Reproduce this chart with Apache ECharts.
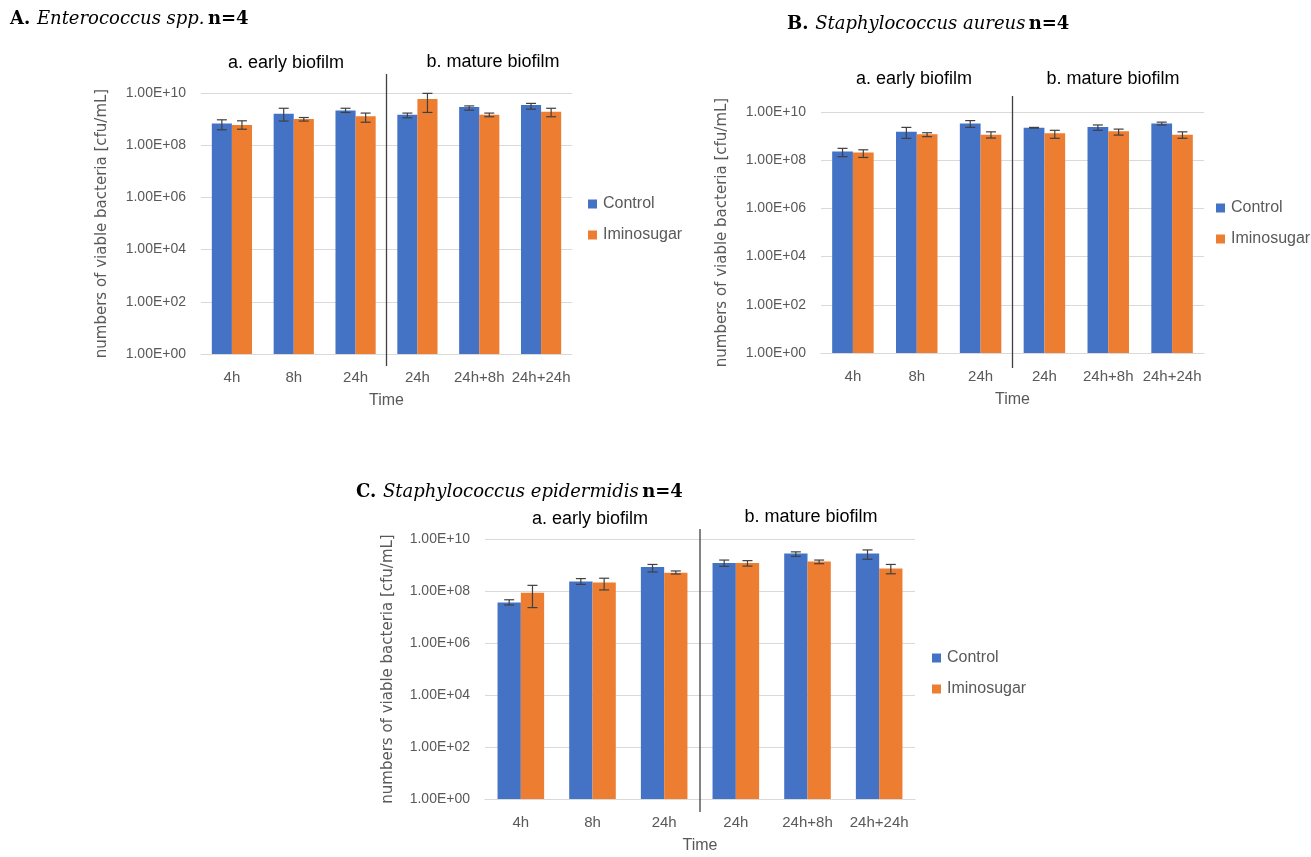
<!DOCTYPE html>
<html>
<head>
<meta charset="utf-8">
<script src="https://cdn.jsdelivr.net/npm/echarts@6/dist/echarts.min.js"></script>
<style>html,body{margin:0;padding:0;background:#fff}#c{width:1311px;height:857px}</style>
</head>
<body>
<div id="c"></div>
<script>
// ---- data ----
const categories = ['4h', '8h', '24h', '24h', '24h+8h', '24h+24h'];
const seriesNames = ['Control', 'Iminosugar'];

// Panel A: Enterococcus spp.
const A_control = [6.8e8, 1.6e9, 2.15e9, 1.47e9, 2.9e9, 3.5e9];
const A_control_low = [3.9e8, 8.4e8, 1.8e9, 1.12e9, 2.2e9, 2.4e9];
const A_control_high = [9.4e8, 2.6e9, 2.6e9, 1.7e9, 3.2e9, 4.0e9];
const A_imino = [6.0e8, 1.0e9, 1.3e9, 5.9e9, 1.47e9, 1.9e9];
const A_imino_low = [4.1e8, 8.4e8, 7.6e8, 1.8e9, 1.23e9, 1.23e9];
const A_imino_high = [8.6e8, 1.15e9, 1.7e9, 9.7e9, 1.7e9, 2.6e9];

// Panel B: Staphylococcus aureus
const B_control = [2.3e8, 1.5e9, 3.3e9, 2.2e9, 2.4e9, 3.3e9];
const B_control_low = [1.4e8, 8.1e8, 2.3e9, 2.15e9, 1.74e9, 2.9e9];
const B_control_high = [3.1e8, 2.3e9, 4.4e9, 2.3e9, 2.9e9, 3.8e9];
const B_imino = [2.1e8, 1.18e9, 1.15e9, 1.3e9, 1.58e9, 1.15e9];
const B_imino_low = [1.3e8, 9.5e8, 8.3e8, 8.1e8, 1.1e9, 8.1e8];
const B_imino_high = [2.7e8, 1.38e9, 1.5e9, 1.74e9, 1.95e9, 1.5e9];

// Panel C: Staphylococcus epidermidis
const C_control = [3.6e7, 2.3e8, 8.3e8, 1.2e9, 2.75e9, 2.75e9];
const C_control_low = [2.9e7, 1.8e8, 5.4e8, 8.9e8, 2.15e9, 1.66e9];
const C_control_high = [4.6e7, 3.0e8, 1.05e9, 1.55e9, 3.2e9, 3.8e9];
const C_imino = [8.5e7, 2.1e8, 5.0e8, 1.2e9, 1.35e9, 7.4e8];
const C_imino_low = [2.3e7, 1.1e8, 4.5e8, 9.1e8, 1.12e9, 4.6e8];
const C_imino_high = [1.65e8, 3.1e8, 5.9e8, 1.47e9, 1.55e9, 1.05e9];

const yMin = 1, yMax = 1e10;
const groupLabels = ['a. early biofilm', 'b. mature biofilm'];
const separatorAfter = 2; // index of last "early" category
const axisTitleY = 'numbers of viable bacteria [cfu/mL]';
const axisTitleX = 'Time';

// ---- styling ----
const BLUE = '#4472C4', ORANGE = '#ED7D31', GREY = '#595959';
const SANS = '"Liberation Sans", Arial, sans-serif';
const CAT_GAP = 0.35;

const panels = [
  { grid: { left: 201, top: 93, width: 371, height: 261 },
    c: A_control, cl: A_control_low, ch: A_control_high,
    i: A_imino, il: A_imino_low, ih: A_imino_high,
    legend: { left: 583, top: 191 }, sepUp: 19, sepDown: 12, nameGapY: 91 },
  { grid: { left: 821, top: 112, width: 383, height: 241 },
    c: B_control, cl: B_control_low, ch: B_control_high,
    i: B_imino, il: B_imino_low, ih: B_imino_high,
    legend: { left: 1211, top: 195 }, sepUp: 16, sepDown: 15, nameGapY: 91 },
  { grid: { left: 485, top: 539, width: 430, height: 260 },
    c: C_control, cl: C_control_low, ch: C_control_high,
    i: C_imino, il: C_imino_low, ih: C_imino_high,
    legend: { left: 927, top: 645 }, sepUp: 10, sepDown: 13, nameGapY: 89 }
];

function fmt(v) {
  const e = Math.round(Math.log10(v));
  return '1.00E+' + (e < 10 ? '0' : '') + e;
}

function errRender(sign) {
  return function (params, api) {
    const band = api.size([1, 1])[0];
    const off = sign * band * (1 - CAT_GAP) / 4;
    const lo = api.coord([api.value(0), api.value(1)]);
    const hi = api.coord([api.value(0), api.value(2)]);
    const x = lo[0] + off;
    const cap = 5;
    const st = { stroke: '#404040', lineWidth: 1.2 };
    return { type: 'group', children: [
      { type: 'line', shape: { x1: x, y1: lo[1], x2: x, y2: hi[1] }, style: st },
      { type: 'line', shape: { x1: x - cap, y1: lo[1], x2: x + cap, y2: lo[1] }, style: st },
      { type: 'line', shape: { x1: x - cap, y1: hi[1], x2: x + cap, y2: hi[1] }, style: st }
    ]};
  };
}

const grids = [], xAxes = [], yAxes = [], series = [], legends = [];
panels.forEach((p, k) => {
  grids.push(Object.assign({ containLabel: false }, p.grid));
  xAxes.push({
    type: 'category', gridIndex: k, data: categories,
    axisTick: { show: false },
    axisLine: { lineStyle: { color: '#d9d9d9', width: 1 } },
    axisLabel: { color: GREY, fontSize: 15, fontFamily: SANS, margin: 16, interval: 0 },
    name: axisTitleX, nameLocation: 'middle', nameGap: 39,
    nameTextStyle: { color: GREY, fontSize: 16, fontFamily: SANS }
  });
  yAxes.push({
    type: 'log', logBase: 10, gridIndex: k, min: yMin, max: yMax, interval: 2,
    axisLine: { show: false }, axisTick: { show: false },
    splitLine: { lineStyle: { color: '#d9d9d9', width: 1 } },
    minorSplitLine: { show: false },
    axisLabel: { color: GREY, fontSize: 14, fontFamily: SANS, margin: 15, formatter: fmt },
    name: axisTitleY, nameLocation: 'middle', nameRotate: 90, nameGap: p.nameGapY,
    nameTextStyle: { color: GREY, fontSize: 15, fontFamily: '"DejaVu Sans", sans-serif' }
  });
  series.push({
    name: 'Control', type: 'bar', xAxisIndex: k, yAxisIndex: k, data: p.c,
    itemStyle: { color: BLUE }, barGap: '0%', barCategoryGap: (CAT_GAP * 100) + '%',
    emphasis: { disabled: true }
  });
  series.push({
    name: 'Iminosugar', type: 'bar', xAxisIndex: k, yAxisIndex: k, data: p.i,
    itemStyle: { color: ORANGE }, barGap: '0%', barCategoryGap: (CAT_GAP * 100) + '%',
    emphasis: { disabled: true }
  });
  series.push({
    type: 'custom', xAxisIndex: k, yAxisIndex: k, z: 5, silent: true,
    data: p.cl.map((v, j) => [j, v, p.ch[j]]), renderItem: errRender(-1)
  });
  series.push({
    type: 'custom', xAxisIndex: k, yAxisIndex: k, z: 5, silent: true,
    data: p.il.map((v, j) => [j, v, p.ih[j]]), renderItem: errRender(1)
  });
  // separator between early and mature biofilm
  series.push({
    type: 'custom', xAxisIndex: k, yAxisIndex: k, z: 6, silent: true,
    data: [[separatorAfter, yMax]],
    renderItem: function (params, api) {
      const band = api.size([1, 1])[0];
      const t = api.coord([api.value(0), yMax]);
      const b = api.coord([api.value(0), yMin]);
      const x = t[0] + band / 2;
      return { type: 'line', shape: { x1: x, y1: t[1] - p.sepUp, x2: x, y2: b[1] + p.sepDown },
        style: { stroke: '#404040', lineWidth: 1.3 } };
    }
  });
  legends.push({
    data: seriesNames, orient: 'vertical', left: p.legend.left, top: p.legend.top,
    icon: 'rect', itemWidth: 9, itemHeight: 9, itemGap: 15, selectedMode: false,
    textStyle: { color: GREY, fontSize: 16, fontFamily: SANS, padding: [0, 0, 0, 1] }
  });
});

function titleText(x, y, letter, species) {
  return {
    type: 'text', left: x, top: y,
    style: {
      text: '{b|' + letter + '}  {i|' + species + '} {b|n=4}',
      rich: {
        b: { fontFamily: '"DejaVu Serif", serif', fontWeight: 'bold', fontSize: 18, fill: '#000' },
        i: { fontFamily: '"DejaVu Serif", serif', fontStyle: 'italic', fontSize: 18, fill: '#000' }
      }
    }
  };
}
function groupText(cx, cy, t) {
  return { type: 'text', x: cx, y: cy,
    style: { text: t, fill: '#000', fontSize: 18, fontFamily: SANS, align: 'center', verticalAlign: 'middle' } };
}

const option = {
  animation: false,
  backgroundColor: '#fff',
  grid: grids, xAxis: xAxes, yAxis: yAxes, series: series, legend: legends,
  graphic: [
    titleText(10, 10, 'A.', 'Enterococcus spp.'),
    titleText(787, 15, 'B.', 'Staphylococcus aureus'),
    titleText(356, 483, 'C.', 'Staphylococcus epidermidis'),
    groupText(286, 63, groupLabels[0]), groupText(493, 62, groupLabels[1]),
    groupText(914, 79, groupLabels[0]), groupText(1113, 79, groupLabels[1]),
    groupText(590, 519, groupLabels[0]), groupText(811, 517, groupLabels[1])
  ]
};
const chart = echarts.init(document.getElementById('c'), null, { renderer: 'canvas' });
chart.setOption(option);
</script>
</body>
</html>
